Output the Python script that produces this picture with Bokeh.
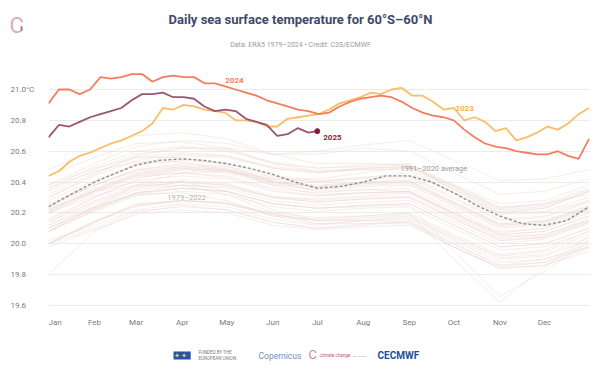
from bokeh.plotting import figure
from bokeh.models import Label, FixedTicker, Range1d
from bokeh.layouts import column, row
from bokeh.embed import file_html
from bokeh.resources import INLINE

# ---------------- data ----------------
month_days = [0, 31, 59, 90, 120, 151, 181, 212, 243, 273, 304, 334, 364]
month_ticks = [0, 31, 59, 90, 120, 151, 181, 212, 243, 273, 304, 334]
month_labels = ["Jan", "Feb", "Mar", "Apr", "May", "Jun", "Jul", "Aug", "Sep", "Oct", "Nov", "Dec"]
y_ticks = [19.6, 19.8, 20.0, 20.2, 20.4, 20.6, 20.8, 21.0]
y_tick_labels = ["19.6", "19.8", "20.0", "20.2", "20.4", "20.6", "20.8", "21.0°C"]

bg_years = list(range(1979, 2023))
bg_values = [
    [19.80, 20.08, 20.20, 20.25, 20.22, 20.14, 20.10, 20.12, 20.15, 20.00, 19.86, 19.90, 19.98],
    [20.00, 20.14, 20.26, 20.28, 20.27, 20.19, 20.15, 20.16, 20.18, 20.03, 19.90, 19.92, 20.02],
    [20.02, 20.12, 20.22, 20.26, 20.24, 20.16, 20.12, 20.15, 20.16, 20.02, 19.88, 19.90, 20.00],
    [20.00, 20.15, 20.25, 20.28, 20.26, 20.20, 20.17, 20.18, 20.20, 19.90, 19.62, 19.85, 20.05],
    [20.22, 20.34, 20.40, 20.40, 20.34, 20.22, 20.15, 20.15, 20.14, 19.98, 19.85, 19.88, 19.98],
    [20.00, 20.10, 20.21, 20.24, 20.22, 20.14, 20.10, 20.13, 20.14, 20.00, 19.86, 19.88, 19.98],
    [19.98, 20.09, 20.19, 20.22, 20.20, 20.12, 20.09, 20.11, 20.12, 19.98, 19.84, 19.86, 19.97],
    [20.00, 20.14, 20.25, 20.28, 20.26, 20.18, 20.16, 20.18, 20.20, 20.06, 19.93, 19.96, 20.08],
    [20.08, 20.22, 20.33, 20.38, 20.37, 20.30, 20.29, 20.31, 20.33, 20.20, 20.07, 20.10, 20.22],
    [20.20, 20.31, 20.38, 20.38, 20.32, 20.20, 20.13, 20.13, 20.13, 19.98, 19.84, 19.86, 19.95],
    [20.00, 20.14, 20.24, 20.28, 20.26, 20.19, 20.15, 20.17, 20.19, 20.05, 19.91, 19.93, 20.04],
    [20.08, 20.22, 20.32, 20.36, 20.34, 20.26, 20.23, 20.25, 20.26, 20.12, 19.98, 20.00, 20.10],
    [20.10, 20.23, 20.33, 20.36, 20.34, 20.26, 20.23, 20.24, 20.25, 19.95, 19.66, 19.82, 20.02],
    [20.12, 20.24, 20.32, 20.33, 20.28, 20.18, 20.13, 20.15, 20.17, 20.04, 19.92, 19.95, 20.06],
    [20.08, 20.21, 20.31, 20.34, 20.32, 20.24, 20.21, 20.23, 20.24, 20.10, 19.96, 19.98, 20.08],
    [20.10, 20.24, 20.35, 20.38, 20.36, 20.28, 20.25, 20.27, 20.28, 20.14, 20.00, 20.03, 20.13],
    [20.14, 20.27, 20.37, 20.40, 20.38, 20.30, 20.27, 20.29, 20.30, 20.16, 20.02, 20.04, 20.14],
    [20.10, 20.23, 20.33, 20.36, 20.34, 20.26, 20.23, 20.25, 20.26, 20.12, 19.98, 20.00, 20.10],
    [20.08, 20.24, 20.38, 20.46, 20.47, 20.42, 20.42, 20.46, 20.50, 20.38, 20.26, 20.28, 20.38],
    [20.36, 20.47, 20.53, 20.53, 20.48, 20.38, 20.32, 20.33, 20.33, 20.18, 20.04, 20.06, 20.16],
    [20.12, 20.26, 20.36, 20.40, 20.38, 20.30, 20.27, 20.29, 20.30, 20.16, 20.02, 20.04, 20.14],
    [20.14, 20.28, 20.38, 20.41, 20.39, 20.31, 20.28, 20.30, 20.31, 20.17, 20.03, 20.05, 20.15],
    [20.20, 20.33, 20.43, 20.46, 20.44, 20.36, 20.33, 20.35, 20.36, 20.22, 20.08, 20.10, 20.20],
    [20.21, 20.35, 20.45, 20.49, 20.47, 20.40, 20.37, 20.39, 20.40, 20.26, 20.12, 20.14, 20.23],
    [20.26, 20.38, 20.47, 20.50, 20.48, 20.40, 20.37, 20.39, 20.40, 20.26, 20.12, 20.14, 20.24],
    [20.22, 20.35, 20.45, 20.49, 20.47, 20.39, 20.36, 20.38, 20.39, 20.25, 20.11, 20.13, 20.23],
    [20.25, 20.38, 20.48, 20.51, 20.49, 20.41, 20.38, 20.40, 20.41, 20.27, 20.13, 20.15, 20.25],
    [20.23, 20.36, 20.46, 20.50, 20.48, 20.40, 20.37, 20.40, 20.41, 20.27, 20.13, 20.15, 20.24],
    [20.22, 20.34, 20.44, 20.46, 20.43, 20.35, 20.31, 20.33, 20.34, 20.20, 20.06, 20.08, 20.18],
    [20.16, 20.30, 20.41, 20.44, 20.42, 20.34, 20.31, 20.33, 20.34, 20.20, 20.06, 20.08, 20.18],
    [20.15, 20.30, 20.42, 20.48, 20.48, 20.42, 20.40, 20.43, 20.46, 20.33, 20.20, 20.23, 20.34],
    [20.38, 20.49, 20.56, 20.56, 20.51, 20.40, 20.34, 20.35, 20.34, 20.19, 20.05, 20.06, 20.15],
    [20.20, 20.34, 20.44, 20.48, 20.46, 20.38, 20.35, 20.37, 20.38, 20.24, 20.10, 20.12, 20.22],
    [20.24, 20.38, 20.48, 20.52, 20.50, 20.43, 20.40, 20.42, 20.43, 20.29, 20.15, 20.17, 20.27],
    [20.28, 20.41, 20.51, 20.54, 20.52, 20.44, 20.41, 20.43, 20.44, 20.30, 20.16, 20.18, 20.28],
    [20.30, 20.44, 20.54, 20.58, 20.57, 20.50, 20.47, 20.49, 20.50, 20.36, 20.22, 20.24, 20.34],
    [20.30, 20.45, 20.57, 20.62, 20.62, 20.58, 20.60, 20.64, 20.67, 20.54, 20.41, 20.42, 20.48],
    [20.48, 20.61, 20.70, 20.72, 20.68, 20.58, 20.52, 20.52, 20.51, 20.35, 20.20, 20.21, 20.30],
    [20.36, 20.50, 20.60, 20.63, 20.61, 20.53, 20.49, 20.50, 20.51, 20.37, 20.23, 20.25, 20.35],
    [20.32, 20.46, 20.56, 20.59, 20.57, 20.49, 20.46, 20.48, 20.49, 20.35, 20.21, 20.23, 20.34],
    [20.38, 20.52, 20.63, 20.67, 20.65, 20.58, 20.58, 20.62, 20.60, 20.46, 20.32, 20.34, 20.42],
    [20.44, 20.56, 20.65, 20.66, 20.62, 20.52, 20.47, 20.48, 20.48, 20.33, 20.19, 20.20, 20.28],
    [20.24, 20.40, 20.52, 20.57, 20.56, 20.49, 20.46, 20.49, 20.50, 20.37, 20.23, 20.26, 20.32],
    [20.34, 20.48, 20.58, 20.62, 20.60, 20.52, 20.49, 20.51, 20.52, 20.38, 20.24, 20.26, 20.36],
]

avg_days = [0, 15, 31, 46, 59, 74, 90, 105, 120, 135, 151, 166, 181, 196, 212, 227, 243, 258, 273, 288, 304, 319, 334, 349, 364]
avg_values = [20.24, 20.32, 20.40, 20.46, 20.51, 20.54, 20.55, 20.54, 20.52, 20.49, 20.45, 20.40, 20.36, 20.37, 20.40, 20.44, 20.44, 20.40, 20.33, 20.25, 20.18, 20.13, 20.12, 20.15, 20.24]

week_days = list(range(0, 365, 7))
y2024 = [20.91, 21.00, 21.00, 20.97, 21.00, 21.08, 21.07, 21.08, 21.10, 21.10, 21.05, 21.08, 21.09, 21.08,
         21.08, 21.04, 21.04, 21.02, 21.00, 20.98, 20.96, 20.93, 20.91, 20.89, 20.87, 20.86, 20.84, 20.85,
         20.89, 20.92, 20.94, 20.95, 20.96, 20.95, 20.92, 20.88, 20.85, 20.83, 20.82, 20.80, 20.74, 20.69,
         20.65, 20.63, 20.62, 20.60, 20.59, 20.58, 20.58, 20.60, 20.57, 20.55, 20.68]
y2023 = [20.44, 20.47, 20.53, 20.57, 20.59, 20.62, 20.65, 20.67, 20.70, 20.73, 20.78, 20.88, 20.87, 20.90,
         20.89, 20.87, 20.86, 20.85, 20.80, 20.80, 20.79, 20.76, 20.76, 20.81, 20.82, 20.83, 20.84, 20.87,
         20.91, 20.93, 20.95, 20.98, 20.97, 21.00, 21.01, 20.96, 20.96, 20.92, 20.87, 20.88, 20.80, 20.82,
         20.79, 20.73, 20.75, 20.67, 20.69, 20.72, 20.76, 20.74, 20.78, 20.84, 20.88]
days2025 = [0, 7, 14, 21, 28, 35, 42, 49, 56, 63, 70, 77, 84, 91, 98, 105, 112, 119, 126, 133, 140, 147, 154, 161, 168, 175, 181]
y2025 = [20.69, 20.77, 20.76, 20.79, 20.82, 20.84, 20.86, 20.88, 20.93, 20.97, 20.97, 20.98, 20.95, 20.95,
         20.94, 20.89, 20.86, 20.87, 20.86, 20.81, 20.79, 20.77, 20.70, 20.71, 20.75, 20.72, 20.73]

title_text = "Daily sea surface temperature for 60°S–60°N"
subtitle_text = "Data: ERA5 1979–2024 • Credit: C3S/ECMWF"

FONT = "Roboto"
W = 592


def blank(width, height, xr, yr, **kw):
    f = figure(width=width, height=height, output_backend="svg", toolbar_location=None,
               x_range=xr, y_range=yr, **kw)
    f.axis.visible = False
    f.grid.grid_line_color = None
    f.outline_line_color = None
    f.background_fill_color = "white"
    f.border_fill_color = "white"
    return f


def put(f, x, y, text, color, size, bold=False, align="left", **kw):
    f.add_layout(Label(x=x, y=y, text=text, text_color=color, text_font=FONT, text_font_size=size,
                       text_font_style="bold" if bold else "normal", text_align=align,
                       text_baseline="middle", **kw))


# ---------------- header ----------------
header = blank(W, 60, Range1d(0, W), Range1d(60, 0),
               min_border_left=0, min_border_right=0, min_border_top=0, min_border_bottom=0)
put(header, 300, 19, title_text, "#3d4a6b", "13px", bold=True, align="center")
put(header, 300, 44, subtitle_text, "#9a9a9a", "7px", align="center")
put(header, 9, 25, "C", "#c07088", "22px", text_alpha=0.6)
put(header, 19, 28, "1", "#9b3a58", "7px", bold=True, text_alpha=0.8)

# ---------------- main plot ----------------
yr = Range1d(19.574, 21.149)
MH = 280
left = blank(48, MH, Range1d(0, 48), yr,
             min_border_left=0, min_border_right=0, min_border_top=6, min_border_bottom=31)
for v, t in zip(y_ticks, y_tick_labels):
    put(left, 10, v, t, "#7a7a7a", "8px")

p = figure(width=W - 48, height=MH, output_backend="svg", toolbar_location=None,
           x_range=Range1d(0, 365), y_range=yr,
           min_border_left=0, min_border_right=2, min_border_top=6, min_border_bottom=31)
p.outline_line_color = None
p.background_fill_color = "white"
p.border_fill_color = "white"
p.yaxis.visible = False
p.xgrid.grid_line_color = None
p.ygrid.ticker = FixedTicker(ticks=y_ticks)
p.ygrid.grid_line_color = "#ececec"
p.ygrid.grid_line_width = 1

p.xaxis.ticker = FixedTicker(ticks=month_ticks)
p.xaxis.major_label_overrides = {d: l for d, l in zip(month_ticks, month_labels)}
p.xaxis.axis_line_color = None
p.xaxis.major_tick_line_color = None
p.xaxis.minor_tick_line_color = None
p.xaxis.major_label_text_font = FONT
p.xaxis.major_label_text_font_size = "8px"
p.xaxis.major_label_text_color = "#7a7a7a"
p.xaxis.major_label_standoff = 2

p.multi_line(xs=[month_days] * len(bg_values), ys=bg_values, line_color="#ebd6d1",
             line_alpha=0.5, line_width=0.9)
p.line(avg_days, avg_values, line_color="#8f8f8f", line_width=1.4, line_dash="3 2")
p.line(week_days, y2023, line_color="#fbbd68", line_width=1.8)
p.line(week_days, y2024, line_color="#f47d5d", line_width=1.8)
p.line(days2025, y2025, line_color="#9b5474", line_width=1.8)
p.scatter([days2025[-1]], [y2025[-1]], size=5, color="#8b1a3a")

put(p, 119, 21.06, "2024", "#f47d5d", "8px", bold=True)
put(p, 274, 20.88, "2023", "#f6b04e", "8px", bold=True)
put(p, 185, 20.69, "2025", "#8b1a3a", "8px", bold=True)
put(p, 237, 20.49, "1991–2020 average", "#9a9a9a", "7.5px")
put(p, 80, 20.30, "1979–2022", "#b9b0b0", "7.5px")

# ---------------- footer ----------------
footer = blank(W, 36, Range1d(0, W), Range1d(36, 0),
               min_border_left=0, min_border_right=0, min_border_top=0, min_border_bottom=0)
put(footer, 173, 15, " ✦ ✦ ", "#f2d23c", "7px", background_fill_color="#2456a4")
put(footer, 198, 12, "FUNDED BY THE", "#7a7a7a", "4.5px")
put(footer, 198, 18, "EUROPEAN UNION", "#7a7a7a", "4.5px")
put(footer, 258, 15, "Copernicus", "#6c92c4", "8.5px")
put(footer, 308, 14, "C", "#c04a6a", "13px", text_alpha=0.7)
put(footer, 319, 15, "climate change", "#b06070", "4.5px")
put(footer, 352, 15, "———", "#9aa9c8", "6px")
put(footer, 377, 15, "CECMWF", "#1d4f9a", "10px", bold=True)

layout = column(header, row(left, p), footer)
open("out.html", "w").write(file_html(layout, INLINE))
